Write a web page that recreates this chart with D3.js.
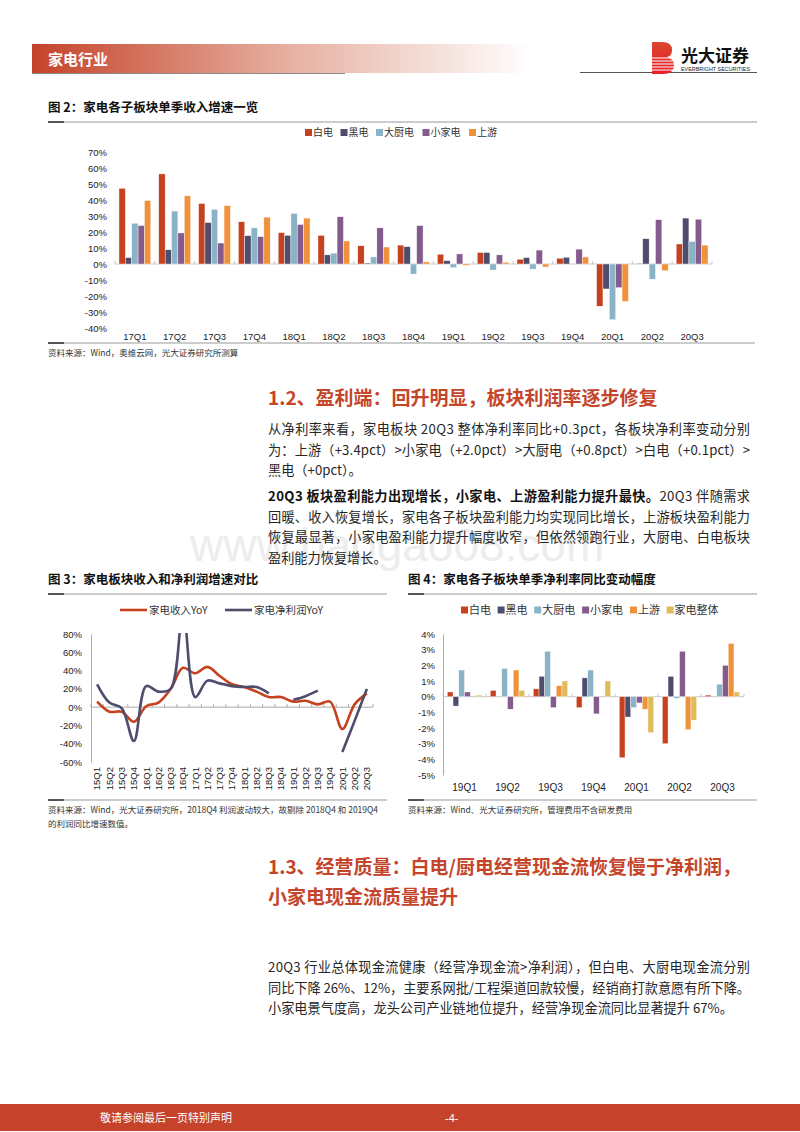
<!DOCTYPE html>
<html>
<head>
<meta charset="utf-8">
<script src="https://cdn.jsdelivr.net/npm/d3@7"></script>
<style>
  body { margin: 0; background: #fff; }
  svg { display: block; }
</style>
</head>
<body>
<svg id="page" width="800" height="1132"></svg>
<script>
(function (d3) {
    'use strict';

    // ---- data: figure 2 (quarterly revenue growth by sub-sector, %)
    var seriesA = ['白电', '黑电', '大厨电', '小家电', '上游'];
    var quartersA = ['17Q1', '17Q2', '17Q3', '17Q4', '18Q1', '18Q2', '18Q3', '18Q4',
                     '19Q1', '19Q2', '19Q3', '19Q4', '20Q1', '20Q2', '20Q3'];
    var baidianA    = [47.3, 56.3, 37.8, 26.4, 19.6, 17.9, 11.4, 11.8, 6.1, 7.2, 3.0, 3.6, -26.4, 0.5, 12.5];
    var heidianA    = [4.0, 8.9, 25.9, 17.7, 17.9, 5.7, 0.6, 10.8, 2.1, 7.2, 4.0, 4.2, -15.6, 15.8, 28.7];
    var dachudianA  = [25.5, 33.1, 34.2, 22.6, 31.6, 6.8, 4.4, -6.3, -2.3, -3.8, -3.2, 0, -34.8, -9.5, 14.1];
    var xiaojiaA    = [24.0, 19.4, 13.1, 17.1, 24.7, 29.5, 22.6, 24.0, 6.3, 5.7, 8.7, 9.3, -14.8, 27.7, 28.0];
    var shangyouA   = [39.7, 42.6, 36.5, 29.3, 28.7, 14.4, 10.6, 1.3, -0.8, 1.1, -1.9, 4.4, -23.4, -4.2, 11.8];
    var ticksA = [-40, -30, -20, -10, 0, 10, 20, 30, 40, 50, 60, 70];

    // ---- data: figure 3 (revenue vs net profit YoY, %)
    var quartersB = ['15Q1', '15Q2', '15Q3', '15Q4', '16Q1', '16Q2', '16Q3', '16Q4',
                     '17Q1', '17Q2', '17Q3', '17Q4', '18Q1', '18Q2', '18Q3', '18Q4',
                     '19Q1', '19Q2', '19Q3', '19Q4', '20Q1', '20Q2', '20Q3'];
    var revenueYoY = [6, -5, -5, -16, 1, 5, 20, 43, 37, 44, 34, 25, 22, 17, 11, 11, 6, 7, 3, 6, -24, 3, 15];
    var profitYoY  = [25, 5, -1, -37, 23, 17, 20, 105, 11, 29, 26, 23, 22, 22, 15, null, 8, 12, 18, null, -49, -15, 20];
    var seriesB = ['家电收入YoY', '家电净利润YoY'];
    var ticksB = [-60, -40, -20, 0, 20, 40, 60, 80];

    // ---- data: figure 4 (net margin YoY change, pct)
    var seriesC = ['白电', '黑电', '大厨电', '小家电', '上游', '家电整体'];
    var quartersC = ['19Q1', '19Q2', '19Q3', '19Q4', '20Q1', '20Q2', '20Q3'];
    var baidianC   = [0.3, 0.4, 0.5, -0.7, -3.9, -3.0, 0.1];
    var heidianC   = [-0.6, 0, 1.3, 1.2, -1.3, 1.3, 0];
    var dachudianC = [1.7, 1.8, 2.9, 1.7, -0.7, -0.1, 0.8];
    var xiaojiaC   = [0.3, -0.8, -0.7, -1.1, -0.4, 2.9, 2.0];
    var shangyouC  = [0, 1.7, 0.7, 0, -0.8, -2.1, 3.4];
    var zhengtiC   = [0.1, 0.4, 1.0, 1.0, -2.3, -1.5, 0.3];
    var ticksC = [-5, -4, -3, -2, -1, 0, 1, 2, 3, 4];

    // ---- page text
    var para1 = [
        '从净利率来看，家电板块 20Q3 整体净利率同比+0.3pct，各板块净利率变动分别',
        '为：上游（+3.4pct）>小家电（+2.0pct）>大厨电（+0.8pct）>白电（+0.1pct）>',
        '黑电（+0pct）。'
    ];
    var para2Bold = '20Q3 板块盈利能力出现增长，小家电、上游盈利能力提升最快。';
    var para2 = [
        '20Q3 伴随需求',
        '回暖、收入恢复增长，家电各子板块盈利能力均实现同比增长，上游板块盈利能力',
        '恢复最显著，小家电盈利能力提升幅度收窄，但依然领跑行业，大厨电、白电板块',
        '盈利能力恢复增长。'
    ];
    var para3 = [
        '20Q3 行业总体现金流健康（经营净现金流>净利润），但白电、大厨电现金流分别',
        '同比下降 26%、12%，主要系网批/工程渠道回款较慢，经销商打款意愿有所下降。',
        '小家电景气度高，龙头公司产业链地位提升，经营净现金流同比显著提升 67%。'
    ];

    var RED = '#C6421F', NAVY = '#4E4D6D', LBLUE = '#8AB3C8',
        PURPLE = '#855B8E', ORANGE = '#F0923C', GOLD = '#E0BB5A';
    var BRAND = '#C4452A';
    var CN = '"Noto Sans CJK SC", "Noto Sans", sans-serif';
    var LAT = '"Liberation Sans", Arial, sans-serif';

    var svg = d3.select('#page');
    var defs = svg.append('defs');

    drawHeader();
    drawRevenueBars();
    drawYoyLines();
    drawMarginBars();
    drawText();
    drawFooter();

    function hline(x1, x2, y, color, w) {
        svg.append('line')
            .attr('x1', x1).attr('x2', x2).attr('y1', y).attr('y2', y)
            .attr('stroke', color).attr('stroke-width', w);
    }

    // Chart title + the rule underneath it.
    function figTitle(txt, x, y, x2) {
        svg.append('text')
            .attr('x', x).attr('y', y)
            .attr('font-family', CN).attr('font-size', 12.5).attr('font-weight', 700)
            .attr('fill', '#111')
            .text(txt);
        hline(x, x2, y + 10, '#999', 1);
        hline(x, x + 16, y + 10, '#555', 2);
    }

    function sourceNote(lines, x, y, x2) {
        hline(x, x2, y - 10, '#999', 1);
        hline(x, x + 16, y - 10, '#555', 2);
        lines.forEach(function (l, i) {
            svg.append('text')
                .attr('x', x).attr('y', y + 3 + i * 14)
                .attr('font-family', CN).attr('font-size', 8.5).attr('fill', '#333')
                .text(l);
        });
    }

    function boxLegend(names, colors, x0, y, size, per) {
        var g = svg.append('g');
        var xx = x0;
        names.forEach(function (n, i) {
            g.append('rect')
                .attr('x', xx).attr('y', y - 3.5).attr('width', 7).attr('height', 7)
                .attr('fill', colors[i]);
            g.append('text')
                .attr('x', xx + 8).attr('y', y).attr('dy', '0.36em')
                .attr('font-family', CN).attr('font-size', size).attr('fill', '#333')
                .text(n);
            xx += per[0] + per[1] * n.length;
        });
    }

    function drawHeader() {
        var grad = defs.append('linearGradient').attr('id', 'hdr').attr('x1', 0).attr('x2', 1);
        grad.append('stop').attr('offset', 0).attr('stop-color', '#C4432A');
        grad.append('stop').attr('offset', 0.5).attr('stop-color', '#E6AD9E');
        grad.append('stop').attr('offset', 1).attr('stop-color', '#fff');
        svg.append('rect')
            .attr('x', 32).attr('y', 44).attr('width', 500).attr('height', 29)
            .attr('fill', 'url(#hdr)');
        svg.append('text')
            .attr('x', 48).attr('y', 65)
            .attr('font-family', CN).attr('font-size', 15).attr('font-weight', 700)
            .attr('fill', '#fff')
            .text('家电行业');
        hline(32, 345, 73.5, '#8a8a8a', 1);
        hline(580, 757, 72.5, '#555', 1);

        // logo
        var lg = defs.append('linearGradient').attr('id', 'logo').attr('x1', 0).attr('x2', 0).attr('y1', 0).attr('y2', 1);
        lg.append('stop').attr('offset', 0).attr('stop-color', '#D9452E');
        lg.append('stop').attr('offset', 1).attr('stop-color', '#E8202A');
        svg.append('path')
            .attr('d', 'M652,42 h10 q10,0 10,8 q0,6 -5,7 q7,2 7,8 q0,9 -11,9 h-11 z')
            .attr('fill', 'url(#logo)');
        [58, 61, 64, 67, 70].forEach(function (yy) {
            hline(652, 674, yy, '#fff', 1);
        });
        svg.append('text')
            .attr('x', 681).attr('y', 62)
            .attr('font-family', CN).attr('font-size', 17).attr('font-weight', 700)
            .attr('fill', '#111')
            .text('光大证券');
        svg.append('text')
            .attr('x', 681).attr('y', 70.5)
            .attr('font-family', LAT).attr('font-size', 5.4).attr('fill', '#222')
            .attr('textLength', 69)
            .text('EVERBRIGHT SECURITIES');
    }

    // Grouped bars, shared by figures 2 and 4.
    function groupedBars(g, x, xs, y, cats, names, values, colors) {
        var groups = g.selectAll('.grp')
            .data(cats)
            .enter().append('g')
            .attr('class', 'grp')
            .attr('transform', function (d) { return 'translate(' + x(d) + ',0)'; });

        groups.selectAll('rect')
            .data(function (d, i) {
                return names.map(function (n, k) { return {name: n, v: values[k][i], c: colors[k]}; });
            })
            .enter().append('rect')
            .attr('x', function (d) { return xs(d.name); })
            .attr('width', xs.bandwidth())
            .attr('y', function (d) { return y(Math.max(0, d.v)); })
            .attr('height', function (d) { return Math.abs(y(d.v) - y(0)); })
            .attr('fill', function (d) { return d.c; })
            .attr('stroke', '#fff')
            .attr('stroke-width', 0.4);
    }

    function zeroAxis(g, x, cats, y0, x0, x1) {
        g.append('line')
            .attr('x1', x0).attr('x2', x1).attr('y1', y0).attr('y2', y0)
            .attr('stroke', '#c8c8c8').attr('stroke-width', 1);
        var edge = x.step() * x.paddingInner() / 2;
        var bounds = cats.map(function (c) { return x(c) - edge; }).concat([x1]);
        bounds[0] = x0;
        g.selectAll('.tk')
            .data(bounds)
            .enter().append('line')
            .attr('x1', function (d) { return d; }).attr('x2', function (d) { return d; })
            .attr('y1', y0 - 3).attr('y2', y0)
            .attr('stroke', '#c8c8c8');
    }

    function styleAxisText(axisG, size) {
        axisG.selectAll('text')
            .attr('font-family', LAT).attr('font-size', size).attr('fill', '#222');
    }

    function drawRevenueBars() {
        figTitle('图 2：家电各子板块单季收入增速一览', 48, 112, 757);
        boxLegend(seriesA, [RED, NAVY, LBLUE, PURPLE, ORANGE], 305, 132.5, 10, [13.5, 11]);

        var g = svg.append('g');
        var x = d3.scaleBand().domain(quartersA).range([115, 712]).paddingInner(0.2).paddingOuter(0.1);
        var xs = d3.scaleBand().domain(seriesA).range([0, x.bandwidth()]);
        var y = d3.scaleLinear().domain([-40, 70]).range([328, 152]);

        var ya = g.append('g')
            .attr('transform', 'translate(108,0)')
            .call(d3.axisLeft(y).tickValues(ticksA).tickSize(0).tickPadding(1)
                .tickFormat(function (d) { return d + '%'; }));
        ya.select('.domain').remove();
        styleAxisText(ya, 9.5);

        zeroAxis(g, x, quartersA, y(0), 115, 712);
        groupedBars(g, x, xs, y, quartersA, seriesA,
            [baidianA, heidianA, dachudianA, xiaojiaA, shangyouA],
            [RED, NAVY, LBLUE, PURPLE, ORANGE]);

        var xa = g.append('g')
            .attr('transform', 'translate(0,333)')
            .call(d3.axisBottom(x).tickSize(0).tickPadding(0));
        xa.select('.domain').remove();
        styleAxisText(xa, 9.5);

        sourceNote(['资料来源：Wind，奥维云网，光大证券研究所测算'], 48, 353, 755);
    }

    function drawYoyLines() {
        figTitle('图 3：家电板块收入和净利润增速对比', 48, 584, 387);

        // legend
        var lcol = [RED, NAVY];
        [120, 225].forEach(function (lx, i) {
            svg.append('line')
                .attr('x1', lx).attr('x2', lx + 27).attr('y1', 610).attr('y2', 610)
                .attr('stroke', lcol[i]).attr('stroke-width', 2.6);
            svg.append('text')
                .attr('x', lx + 29).attr('y', 610).attr('dy', '0.36em')
                .attr('font-family', CN).attr('font-size', 10.5).attr('fill', '#333')
                .text(seriesB[i]);
        });

        var g = svg.append('g');
        var x = d3.scaleBand().domain(quartersB).range([91, 373]);
        var y = d3.scaleLinear().domain([-60, 80]).range([762, 634]);
        var cx = function (i) { return x(quartersB[i]) + x.bandwidth() / 2; };

        var ya = g.append('g')
            .attr('transform', 'translate(91,0)')
            .call(d3.axisLeft(y).tickValues(ticksB).tickSizeInner(0).tickSizeOuter(0).tickPadding(9)
                .tickFormat(function (d) { return d + '%'; }));
        ya.select('.domain').attr('stroke', '#aaa');
        styleAxisText(ya, 9.5);

        // zero line with ticks at band edges
        var y0 = y(0);
        g.append('line')
            .attr('x1', 91).attr('x2', 373).attr('y1', y0).attr('y2', y0)
            .attr('stroke', '#aaa');
        g.selectAll('.tk')
            .data(quartersB.concat(['end']))
            .enter().append('line')
            .attr('x1', function (d) { return d === 'end' ? 373 : x(d); })
            .attr('x2', function (d) { return d === 'end' ? 373 : x(d); })
            .attr('y1', y0 - 3).attr('y2', y0)
            .attr('stroke', '#aaa');

        g.selectAll('.xl')
            .data(quartersB)
            .enter().append('text')
            .attr('transform', function (d, i) { return 'translate(' + cx(i) + ',767) rotate(-90)'; })
            .attr('dy', '0.35em')
            .attr('text-anchor', 'end')
            .attr('font-family', LAT).attr('font-size', 9.5).attr('fill', '#222')
            .text(function (d) { return d; });

        defs.append('clipPath').attr('id', 'plot3')
            .append('rect').attr('x', 91).attr('y', 633).attr('width', 290).attr('height', 135);

        var line = d3.line()
            .defined(function (d) { return d !== null; })
            .x(function (d, i) { return cx(i); })
            .y(function (d) { return y(d); })
            .curve(d3.curveCatmullRom.alpha(0.5));

        var plot = g.append('g').attr('clip-path', 'url(#plot3)');
        plot.append('path')
            .datum(revenueYoY)
            .attr('d', line)
            .attr('fill', 'none').attr('stroke', RED).attr('stroke-width', 2.6)
            .attr('stroke-linejoin', 'round');
        plot.append('path')
            .datum(profitYoY)
            .attr('d', line)
            .attr('fill', 'none').attr('stroke', NAVY).attr('stroke-width', 2.6)
            .attr('stroke-linejoin', 'round');

        sourceNote(['资料来源：Wind，光大证券研究所，2018Q4 利润波动较大，故剔除 2018Q4 和 2019Q4',
                    '的利润同比增速数值。'], 48, 810, 387);
    }

    function drawMarginBars() {
        figTitle('图 4：家电各子板块单季净利率同比变动幅度', 408, 584, 757);
        boxLegend(seriesC, [RED, NAVY, LBLUE, PURPLE, ORANGE, GOLD], 461, 610, 11, [14, 11.3]);

        var g = svg.append('g');
        var x = d3.scaleBand().domain(quartersC).range([443, 744]).paddingInner(0.2).paddingOuter(0.1);
        var xs = d3.scaleBand().domain(seriesC).range([0, x.bandwidth()]);
        var y = d3.scaleLinear().domain([-5, 4]).range([775, 634]);

        var ya = g.append('g')
            .attr('transform', 'translate(443,0)')
            .call(d3.axisLeft(y).tickValues(ticksC).tickSizeInner(0).tickSizeOuter(0).tickPadding(8)
                .tickFormat(function (d) { return d + '%'; }));
        ya.select('.domain').attr('stroke', '#aaa');
        styleAxisText(ya, 9.5);

        zeroAxis(g, x, quartersC, y(0), 443, 744);
        groupedBars(g, x, xs, y, quartersC, seriesC,
            [baidianC, heidianC, dachudianC, xiaojiaC, shangyouC, zhengtiC],
            [RED, NAVY, LBLUE, PURPLE, ORANGE, GOLD]);

        var xa = g.append('g')
            .attr('transform', 'translate(0,784)')
            .call(d3.axisBottom(x).tickSize(0).tickPadding(0));
        xa.select('.domain').remove();
        styleAxisText(xa, 10);

        sourceNote(['资料来源：Wind、光大证券研究所，管理费用不含研发费用'], 408, 810, 757);
    }

    function bodyLine(str, y, full, bold) {
        var t = svg.append('text')
            .attr('x', 268).attr('y', y)
            .attr('font-family', CN).attr('font-size', 13.2).attr('fill', '#262626');
        if (bold) {
            t.append('tspan').attr('font-weight', 700).attr('fill', '#111').text(bold);
        }
        t.append('tspan').text(str);
        if (full) {
            t.attr('textLength', 482).attr('lengthAdjust', 'spacing');
        }
        return t;
    }

    function heading(str, y) {
        svg.append('text')
            .attr('x', 268).attr('y', y)
            .attr('font-family', CN).attr('font-size', 19).attr('font-weight', 700)
            .attr('fill', BRAND)
            .text(str);
    }

    function drawText() {
        // faint watermark behind the paragraph
        svg.insert('text', ':first-child')
            .attr('x', 190).attr('y', 561)
            .attr('font-family', LAT).attr('font-size', 46)
            .attr('fill', '#ededed')
            .text('www.baogao08.com');

        heading('1.2、盈利端：回升明显，板块利润率逐步修复', 405);
        var y = 434;
        para1.forEach(function (l, i) {
            bodyLine(l, y + i * 20.5, i < para1.length - 1);
        });
        y = 501;
        para2.forEach(function (l, i) {
            bodyLine(l, y + i * 20.7, i < para2.length - 1, i === 0 ? para2Bold : null);
        });

        heading('1.3、经营质量：白电/厨电经营现金流恢复慢于净利润，', 874);
        heading('小家电现金流质量提升', 904);
        y = 972;
        para3.forEach(function (l, i) {
            bodyLine(l, y + i * 20.5, i < para3.length - 1);
        });
    }

    function drawFooter() {
        svg.append('rect')
            .attr('x', 0).attr('y', 1104).attr('width', 800).attr('height', 27)
            .attr('fill', '#C4432A');
        svg.append('text')
            .attr('x', 100).attr('y', 1118).attr('dy', '0.36em')
            .attr('font-family', CN).attr('font-size', 11).attr('fill', '#fff')
            .text('敬请参阅最后一页特别声明');
        svg.append('text')
            .attr('x', 445).attr('y', 1118).attr('dy', '0.36em')
            .attr('font-family', LAT).attr('font-size', 11).attr('fill', '#fff')
            .text('-4-');
    }
})(d3);
</script>
</body>
</html>
